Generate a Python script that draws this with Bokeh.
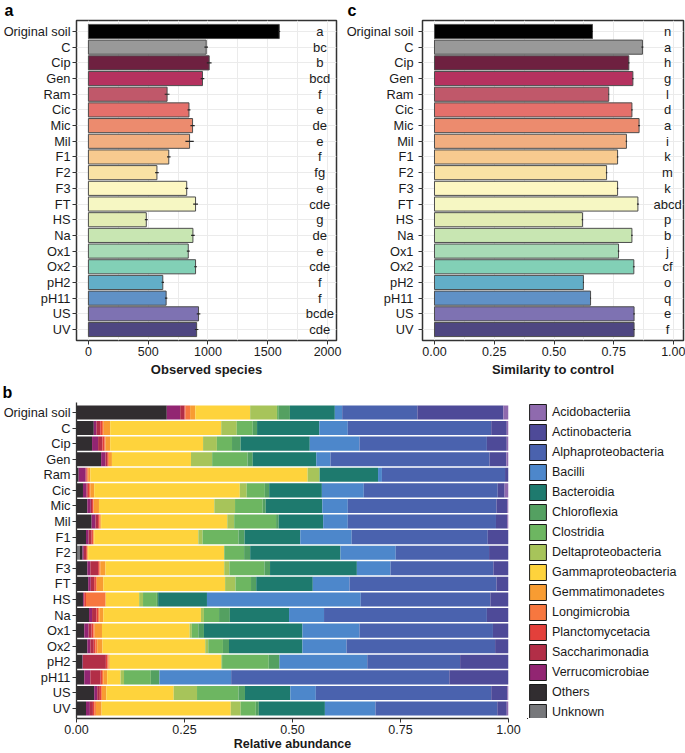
from bokeh.plotting import figure
from bokeh.models import (FactorRange, Range1d, FixedTicker, NumeralTickFormatter,
                          Legend, LegendItem, ColumnDataSource)
from bokeh.layouts import column, row
from bokeh.embed import file_html
from bokeh.resources import INLINE
from bokeh.core.properties import value

FONT = "Liberation Sans"

samples = ["Original soil", "C", "Cip", "Gen", "Ram", "Cic", "Mic", "Mil", "F1", "F2",
           "F3", "FT", "HS", "Na", "Ox1", "Ox2", "pH2", "pH11", "US", "UV"]
sample_colors = ["#000000", "#999999", "#6e2040", "#b5325f", "#c0586a", "#e5706b",
                 "#ec8b6e", "#f1ae80", "#f7ca8f", "#f9e2a4", "#fdf7c2", "#f6f7c3",
                 "#e3ecb4", "#c8e6b2", "#a8dbb6", "#82d0b6", "#62aec7", "#6091c6",
                 "#7e72b2", "#4e4681"]

# panel a
observed = [1596, 985, 1010, 954, 658, 841, 871, 846, 672, 573,
            822, 896, 484, 874, 835, 896, 622, 650, 921, 905]
observed_err = [8, 15, 20, 15, 20, 12, 18, 35, 15, 15,
                12, 20, 12, 15, 12, 12, 10, 10, 15, 15]
observed_letters = ["a", "bc", "b", "bcd", "f", "e", "de", "e", "f", "fg",
                    "e", "cde", "g", "de", "e", "cde", "f", "f", "bcde", "cde"]

# panel c
similarity = [0.661, 0.870, 0.813, 0.830, 0.729, 0.826, 0.856, 0.803, 0.766, 0.720,
              0.766, 0.851, 0.619, 0.826, 0.770, 0.834, 0.623, 0.653, 0.835, 0.835]
similarity_err = [0.002, 0.004, 0.003, 0.003, 0.002, 0.003, 0.004, 0.003, 0.003, 0.003,
                  0.003, 0.004, 0.003, 0.003, 0.003, 0.004, 0.002, 0.002, 0.003, 0.003]
similarity_letters = ["n", "a", "h", "g", "l", "d", "a", "i", "k", "m",
                      "k", "abcd", "p", "b", "j", "cf", "o", "q", "e", "f"]

# panel b : relative abundance per class (order of samples above)
ab_unknown = [0, 0, 0, 0, 0, 0, 0, 0, 0, 0.007, 0, 0, 0, 0, 0, 0, 0, 0, 0, 0]
ab_others = [0.209, 0.040, 0.036, 0.057, 0.005, 0.015, 0.025, 0.035, 0.022, 0.007,
             0.025, 0.027, 0.015, 0.029, 0.018, 0.025, 0.014, 0.018, 0.041, 0.022]
ab_verruco = [0.031, 0.006, 0.014, 0.010, 0.016, 0.008, 0.008, 0.009, 0.006, 0.003,
              0.007, 0.006, 0.002, 0.007, 0.010, 0.007, 0.001, 0.014, 0.007, 0.009]
ab_saccha = [0.010, 0.009, 0.010, 0.004, 0.002, 0.003, 0.003, 0.006, 0.007, 0.005,
             0.018, 0.008, 0.001, 0.010, 0.007, 0.008, 0.053, 0.024, 0.006, 0.007]
ab_plancto = [0.002, 0.004, 0.005, 0.002, 0.002, 0.003, 0.003, 0.003, 0.003, 0.002,
              0.003, 0.004, 0.004, 0.004, 0.004, 0.004, 0.004, 0.003, 0.003, 0.003]
ab_longi = [0.011, 0.004, 0.002, 0.002, 0.002, 0.003, 0.001, 0.002, 0.001, 0.001,
            0.002, 0.002, 0.045, 0.003, 0.003, 0.004, 0.002, 0.003, 0.002, 0.004]
ab_gemma = [0.012, 0.015, 0.011, 0.007, 0.005, 0.009, 0.012, 0.002, 0.002, 0.002,
            0.012, 0.015, 0.001, 0.009, 0.017, 0.012, 0.003, 0.009, 0.010, 0.013]
ab_gamma = [0.127, 0.257, 0.215, 0.183, 0.503, 0.337, 0.267, 0.292, 0.241, 0.315,
            0.275, 0.282, 0.077, 0.226, 0.203, 0.238, 0.258, 0.031, 0.156, 0.299]
ab_delta = [0.062, 0.036, 0.032, 0.049, 0.027, 0.016, 0.048, 0.016, 0.010, 0.000,
            0.012, 0.024, 0.009, 0.007, 0.005, 0.007, 0.002, 0.008, 0.054, 0.023]
ab_clostri = [0.003, 0.037, 0.035, 0.082, 0.001, 0.042, 0.064, 0.097, 0.083, 0.046,
              0.081, 0.036, 0.032, 0.035, 0.015, 0.034, 0.108, 0.062, 0.096, 0.035]
ab_chloro = [0.027, 0.010, 0.020, 0.012, 0.000, 0.010, 0.007, 0.006, 0.014, 0.014,
             0.013, 0.012, 0.003, 0.025, 0.013, 0.014, 0.024, 0.020, 0.015, 0.007]
ab_bactero = [0.104, 0.144, 0.160, 0.147, 0.135, 0.122, 0.131, 0.103, 0.129, 0.209,
              0.201, 0.131, 0.113, 0.137, 0.228, 0.170, 0.001, 0.000, 0.105, 0.153]
ab_bacilli = [0.017, 0.066, 0.115, 0.033, 0.009, 0.097, 0.059, 0.057, 0.119, 0.128,
              0.078, 0.085, 0.356, 0.081, 0.132, 0.102, 0.203, 0.166, 0.059, 0.117]
ab_alpha = [0.174, 0.332, 0.295, 0.368, 0.285, 0.310, 0.344, 0.343, 0.315, 0.216,
            0.238, 0.340, 0.300, 0.377, 0.309, 0.344, 0.215, 0.505, 0.406, 0.282]
ab_actino = [0.199, 0.036, 0.046, 0.039, 0.008, 0.016, 0.025, 0.026, 0.048, 0.045,
             0.035, 0.028, 0.042, 0.050, 0.036, 0.031, 0.112, 0.137, 0.037, 0.022]
ab_acido = [0.012, 0.004, 0.004, 0.005, 0, 0.009, 0.003, 0.003, 0, 0,
            0, 0, 0, 0, 0, 0, 0, 0, 0.003, 0.004]

legend_classes = ["Acidobacteriia", "Actinobacteria", "Alphaproteobacteria", "Bacilli",
                  "Bacteroidia", "Chloroflexia", "Clostridia", "Deltaproteobacteria",
                  "Gammaproteobacteria", "Gemmatimonadetes", "Longimicrobia",
                  "Planctomycetacia", "Saccharimonadia", "Verrucomicrobiae", "Others", "Unknown"]
class_colors = ["#8f6aae", "#4e4a98", "#4a62ae", "#4d87cb", "#1e7a6e", "#54a061",
                "#6db661", "#a7c45a", "#fed33c", "#f89c32", "#f7773f", "#e3403b",
                "#b22e47", "#922572", "#312d30", "#77787b"]
class_values = [ab_acido, ab_actino, ab_alpha, ab_bacilli, ab_bactero, ab_chloro,
                ab_clostri, ab_delta, ab_gamma, ab_gemma, ab_longi, ab_plancto,
                ab_saccha, ab_verruco, ab_others, ab_unknown]

TXT = "#1a1a1a"


def style_title(p, tag, offset):
    p.title.text = tag
    p.title.align = "left"
    p.title.vertical_align = "top"
    p.title.offset = offset
    p.title.standoff = 0
    p.title.text_font = FONT
    p.title.text_font_style = "bold"
    p.title.text_font_size = "16px"
    p.title.text_line_height = 0.8
    p.title.text_color = "#000000"


def bar_panel(width, left_border, right_border, xr, ticks, minor, fmt, vals, errs,
              letters, letter_x, xlabel, tag, tag_offset, ylab_standoff):
    yr = FactorRange(factors=samples[::-1], range_padding=0.2, range_padding_units="absolute")
    p = figure(width=width, height=380, x_range=xr, y_range=yr, output_backend="svg",
               toolbar_location=None, min_border_left=left_border,
               min_border_right=right_border, min_border_top=20, min_border_bottom=40)
    style_title(p, tag, tag_offset)
    src = ColumnDataSource(dict(sample=samples, val=vals,
                                lo=[v - e for v, e in zip(vals, errs)],
                                hi=[v + e for v, e in zip(vals, errs)],
                                color=sample_colors, letter=letters,
                                lx=[letter_x] * len(samples)))
    p.hbar(y="sample", left=0, right="val", height=0.9, fill_color="color",
           line_color="#4d4d4d", line_width=1, source=src)
    p.segment(x0="lo", y0="sample", x1="hi", y1="sample", line_color="#262626",
              line_width=1.2, source=src)
    p.text(x="lx", y="sample", text="letter", text_align="center", text_baseline="middle",
           text_font=value(FONT), text_font_size="13px", text_color=TXT, source=src)
    tk = FixedTicker(ticks=ticks, minor_ticks=minor)
    p.xaxis.ticker = tk
    p.xgrid.ticker = tk
    if fmt:
        p.xaxis.formatter = NumeralTickFormatter(format=fmt)
    p.xaxis.axis_label = xlabel
    p.xaxis.axis_label_text_font = FONT
    p.xaxis.axis_label_text_font_style = "bold"
    p.xaxis.axis_label_text_font_size = "13px"
    p.xaxis.axis_label_text_color = TXT
    p.xaxis.axis_label_text_line_height = 1.0
    p.xaxis.axis_label_standoff = 3
    p.xaxis.major_label_text_font_size = "12.5px"
    p.xaxis.major_label_text_line_height = 1.0
    p.xaxis.major_label_standoff = 2
    p.yaxis.major_label_text_font_size = "12.8px"
    p.yaxis.major_label_standoff = ylab_standoff
    p.axis.major_label_text_font = FONT
    p.axis.major_label_text_color = TXT
    p.axis.axis_line_color = None
    p.axis.major_tick_out = 4
    p.axis.major_tick_in = 0
    p.axis.minor_tick_out = 0
    p.axis.minor_tick_in = 0
    p.axis.major_tick_line_color = "#333333"
    p.xgrid.grid_line_color = "#ebebeb"
    p.xgrid.minor_grid_line_color = "#ebebeb"
    p.ygrid.grid_line_color = "#ebebeb"
    p.outline_line_color = "#333333"
    p.outline_line_width = 1.5
    return p


pa = bar_panel(343, 74, 7, Range1d(-99.6, 2074.7), [0, 500, 1000, 1500, 2000],
               [250, 750, 1250, 1750], None, observed, observed_err, observed_letters,
               1935, "Observed species", "a", -72, 2)
pc = bar_panel(342, 79, 2, Range1d(-0.0502, 1.0418), [0, 0.25, 0.5, 0.75, 1.0],
               [0.125, 0.375, 0.625, 0.875], "0.00", similarity, similarity_err,
               similarity_letters, 0.975, "Similarity to control", "c", -75, 5)

# panel b
yr_b = FactorRange(factors=samples[::-1], range_padding=0.14, range_padding_units="absolute")
pb = figure(width=522, height=373, x_range=Range1d(0, 1), y_range=yr_b, output_backend="svg",
            toolbar_location=None, min_border_left=75, min_border_right=14,
            min_border_top=22, min_border_bottom=32)
style_title(pb, "b", -74)
stack_names = ["unknown", "others", "verruco", "saccha", "plancto", "longi", "gemma", "gamma",
               "delta", "clostri", "chloro", "bactero", "bacilli", "alpha", "actino", "acido"]
stack_values = class_values[::-1]
stack_colors = class_colors[::-1]
data_b = dict(sample=samples)
for nm, vals in zip(stack_names, stack_values):
    data_b[nm] = vals
src_b = ColumnDataSource(data_b)
pb.hbar_stack(stack_names, y="sample", height=0.9, fill_color=stack_colors,
              line_color=None, source=src_b)

pb.xaxis.ticker = FixedTicker(ticks=[0, 0.25, 0.5, 0.75, 1.0])
pb.xaxis.formatter = NumeralTickFormatter(format="0.00")
pb.xaxis.axis_label = "Relative abundance"
pb.xaxis.axis_label_text_font = FONT
pb.xaxis.axis_label_text_font_style = "bold"
pb.xaxis.axis_label_text_font_size = "12.5px"
pb.xaxis.axis_label_text_color = TXT
pb.xaxis.axis_label_text_line_height = 0.9
pb.xaxis.axis_label_standoff = 0
pb.xaxis.major_label_text_font_size = "12.5px"
pb.xaxis.major_label_text_line_height = 0.9
pb.xaxis.major_label_standoff = 2
pb.yaxis.major_label_text_font_size = "12.8px"
pb.yaxis.major_label_standoff = 2
pb.axis.major_label_text_font = FONT
pb.axis.major_label_text_color = TXT
pb.axis.axis_line_color = "#333333"
pb.axis.axis_line_width = 1.3
pb.axis.major_tick_out = 4
pb.axis.major_tick_in = 0
pb.axis.minor_tick_out = 0
pb.axis.minor_tick_in = 0
pb.axis.major_tick_line_color = "#333333"
pb.xgrid.visible = False
pb.ygrid.visible = False
pb.outline_line_color = None

# legend of panel b, in its own narrow figure to the right (frame aligned with panel b)
pl = figure(width=163, height=373, x_range=Range1d(0, 1), y_range=Range1d(0, 1),
            output_backend="svg", toolbar_location=None, x_axis_type=None, y_axis_type=None,
            min_border_left=5, min_border_right=0, min_border_top=22, min_border_bottom=32)
pl.outline_line_color = None
items = []
for nm, col in zip(legend_classes, class_colors):
    r = pl.hbar(y=[-5], left=[-2], right=[-1], height=0.5, fill_color=col,
                line_color="#1a1a1a", line_width=1)
    items.append(LegendItem(label=nm, renderers=[r]))
legend = Legend(items=items, location="top_left", glyph_width=21, glyph_height=20,
                label_height=20, spacing=0, padding=0, margin=0, label_standoff=4,
                label_text_font=FONT, label_text_font_size="12.5px", label_text_color=TXT,
                border_line_color=None, background_fill_alpha=0)
pl.add_layout(legend)

layout = column(row(pa, pc), row(pb, pl))
open("out.html", "w").write(file_html(layout, INLINE))
